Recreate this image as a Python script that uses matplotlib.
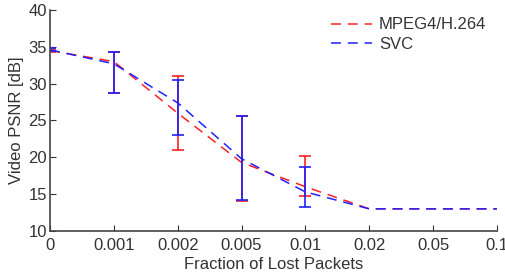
import matplotlib
matplotlib.use("Agg")
import matplotlib.pyplot as plt
import numpy as np

plt.rcParams['font.family'] = ['Liberation Sans', 'DejaVu Sans']

categories = ["0", "0.001", "0.002", "0.005", "0.01", "0.02", "0.05", "0.1"]
mpeg_mean = [34.5, 33.0, 26.0, 19.3, 16.0, 13.0, 13.0, 13.0]
mpeg_low = [34.3, 28.8, 21.0, 14.0, 14.8, 13.0, 13.0, 13.0]
mpeg_high = [34.7, 34.3, 31.0, 25.6, 20.2, 13.0, 13.0, 13.0]
svc_mean = [34.6, 32.7, 27.4, 19.8, 15.3, 13.0, 13.0, 13.0]
svc_low = [34.4, 28.8, 23.0, 14.2, 13.3, 13.0, 13.0, 13.0]
svc_high = [34.8, 34.3, 30.5, 25.6, 18.7, 13.0, 13.0, 13.0]

x = np.arange(len(categories))
fig = plt.figure(figsize=(5.05, 2.72), dpi=100)
ax = fig.add_axes([0.099, 0.151, 0.885, 0.812])

def draw(mean, low, high, color, label):
    mean = np.array(mean); low = np.array(low); high = np.array(high)
    idx = [i for i in range(len(mean)) if high[i] - low[i] > 0.5 or i == 0]
    ax.errorbar(x[idx], mean[idx], yerr=[mean[idx] - low[idx], high[idx] - mean[idx]],
                fmt='none', ecolor=color, elinewidth=1.2, capsize=4, capthick=1.2)
    ax.plot(x, mean, linestyle=(0, (6.5, 4.5)), color=color, lw=1.1, label=label)

draw(mpeg_mean, mpeg_low, mpeg_high, '#ff2020', 'MPEG4/H.264')
draw(svc_mean, svc_low, svc_high, '#2020ff', 'SVC')

ax.set_xlim(0, 7)
ax.set_ylim(10, 40)
ax.set_xticks(x)
ax.set_xticklabels(categories)
ax.set_yticks(np.arange(10, 41, 5))
ax.tick_params(direction='in', labelsize=12, length=4, colors='#333333')
ax.tick_params(axis='x', pad=5)
ax.tick_params(axis='y', pad=2)
for s in ['top', 'right']:
    ax.spines[s].set_visible(False)
for s in ['left', 'bottom']:
    ax.spines[s].set_color('#444444')
    ax.spines[s].set_linewidth(1.2)
ax.set_xlabel('Fraction of Lost Packets', fontsize=12, labelpad=3, color='#333333')
ax.set_ylabel('Video PSNR [dB]', fontsize=12, labelpad=3, color='#333333')
leg = ax.legend(loc='upper right', frameon=False, fontsize=12, handlelength=2.5,
                bbox_to_anchor=(1.01, 1.035), labelspacing=0.25, handletextpad=0.4)
for t in leg.get_texts():
    t.set_color('#333333')
fig.savefig('out.png', dpi=100)
